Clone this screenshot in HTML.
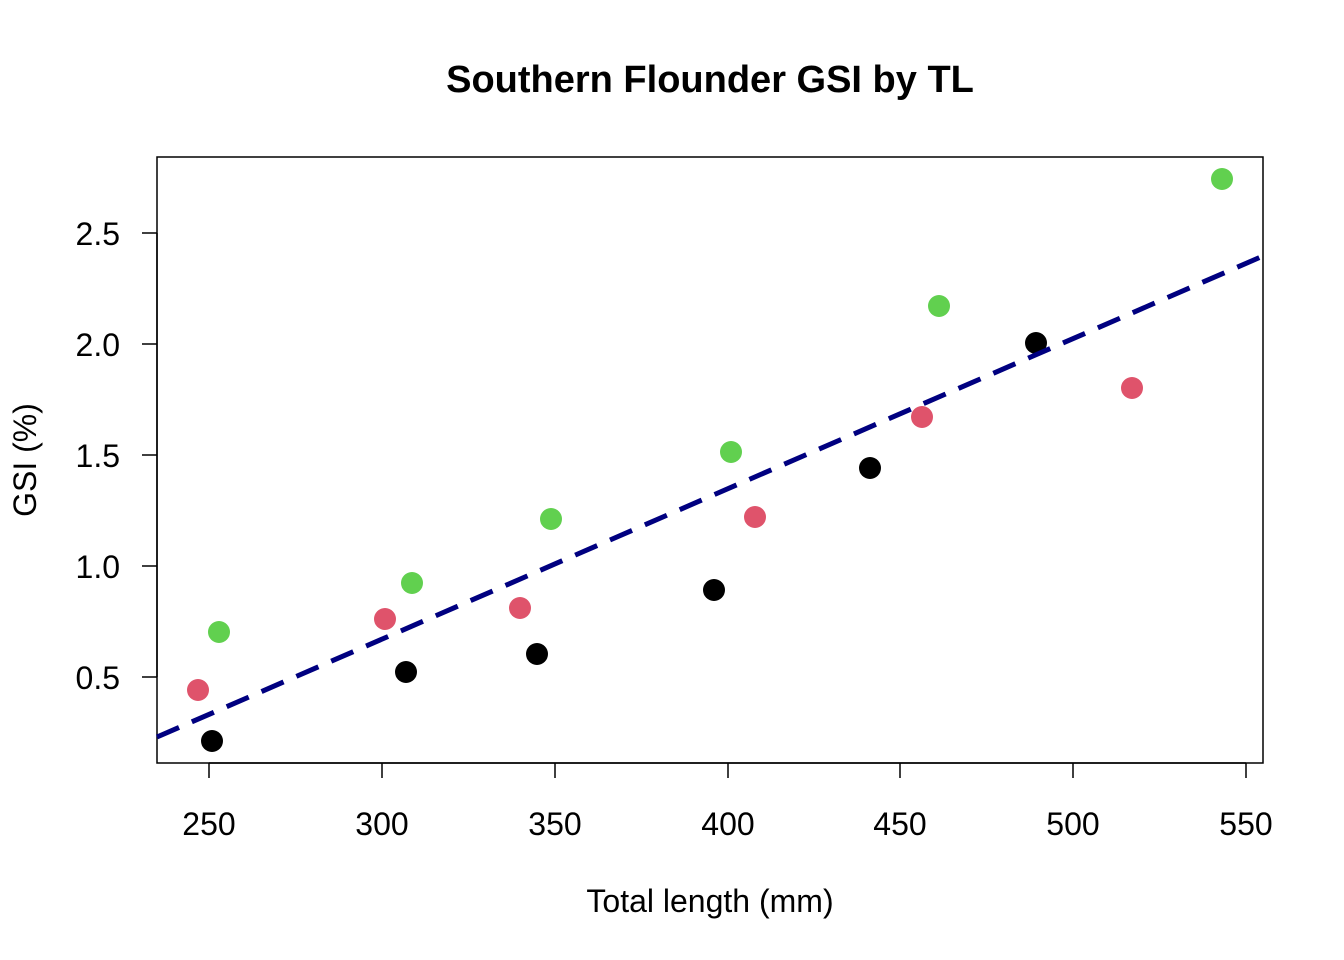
<!DOCTYPE html>
<html><head><meta charset="utf-8"><style>body{margin:0;background:#fff}svg{display:block}</style></head><body>
<svg width="1344" height="960" xmlns="http://www.w3.org/2000/svg" font-family="Liberation Sans, Arial, sans-serif">
<rect width="1344" height="960" fill="#fff"/>
<text x="710" y="92" font-size="38" font-weight="bold" text-anchor="middle">Southern Flounder GSI by TL</text>
<rect x="157" y="157" width="1106" height="606" fill="none" stroke="#000" stroke-width="1.5"/>
<g stroke="#000" stroke-width="1.5">
<line x1="209" y1="763" x2="1246" y2="763"/>
<line x1="209" y1="763" x2="209" y2="778"/><line x1="382" y1="763" x2="382" y2="778"/><line x1="555" y1="763" x2="555" y2="778"/><line x1="728" y1="763" x2="728" y2="778"/><line x1="900" y1="763" x2="900" y2="778"/><line x1="1073" y1="763" x2="1073" y2="778"/><line x1="1246" y1="763" x2="1246" y2="778"/>
<line x1="157" y1="233" x2="157" y2="677"/>
<line x1="142" y1="233" x2="157" y2="233"/><line x1="142" y1="344" x2="157" y2="344"/><line x1="142" y1="455" x2="157" y2="455"/><line x1="142" y1="566" x2="157" y2="566"/><line x1="142" y1="677" x2="157" y2="677"/>
</g>
<g font-size="32" text-anchor="middle">
<text x="209" y="835">250</text><text x="382" y="835">300</text><text x="555" y="835">350</text><text x="728" y="835">400</text><text x="900" y="835">450</text><text x="1073" y="835">500</text><text x="1246" y="835">550</text>
<text x="710" y="912">Total length (mm)</text>
</g>
<g font-size="32" text-anchor="end">
<text x="120" y="245">2.5</text>
<text x="120" y="356">2.0</text>
<text x="120" y="467">1.5</text>
<text x="120" y="578">1.0</text>
<text x="120" y="689">0.5</text>
</g>
<text transform="translate(36,460) rotate(-90)" font-size="32" text-anchor="middle">GSI (%)</text>
<g fill="#000">
<circle cx="212" cy="741" r="11"/><circle cx="406" cy="672" r="11"/><circle cx="537" cy="654" r="11"/><circle cx="714" cy="590" r="11"/><circle cx="870" cy="468" r="11"/><circle cx="1036" cy="343" r="11"/>
</g>
<g fill="#DF536B">
<circle cx="198" cy="690" r="11"/><circle cx="385" cy="619" r="11"/><circle cx="520" cy="608" r="11"/><circle cx="755" cy="517" r="11"/><circle cx="922" cy="417" r="11"/><circle cx="1132" cy="388" r="11"/>
</g>
<g fill="#61D04F">
<circle cx="219" cy="632" r="11"/><circle cx="412" cy="583" r="11"/><circle cx="551" cy="519" r="11"/><circle cx="731" cy="452" r="11"/><circle cx="939" cy="306" r="11"/><circle cx="1222" cy="179" r="11"/>
</g>
<line x1="157" y1="737" x2="1263" y2="256" stroke="#000080" stroke-width="5" stroke-dasharray="24,14"/>
</svg>
</body></html>
